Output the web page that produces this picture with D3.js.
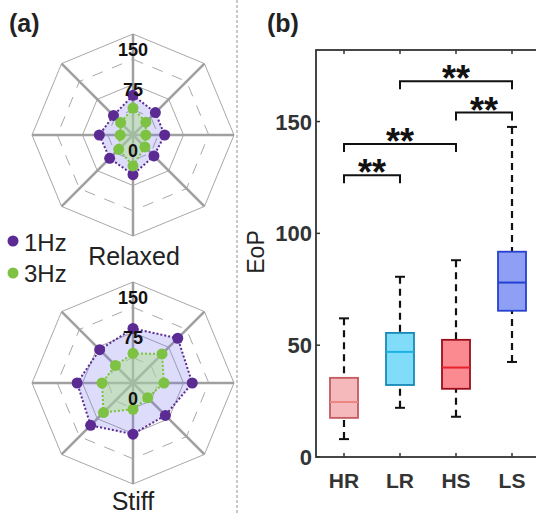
<!DOCTYPE html>
<html>
<head>
<meta charset="utf-8">
<script src="https://cdnjs.cloudflare.com/ajax/libs/d3/7.8.5/d3.min.js"></script>
<style>
  body { margin: 0; background: #fff; }
  svg { display: block; font-family: "Liberation Sans", Arial, sans-serif; }
</style>
</head>
<body>
<div id="chart"></div>
<script>
// radar data, axes in order N, NE, E, SE, S, SW, W, NW
var relaxed1Hz = [59, 47, 47, 44, 59, 49, 50, 41];
var relaxed3Hz = [40, 27, 19, 25, 46, 30, 19, 26];
var stiff1Hz   = [81, 94, 88, 68, 76, 89, 83, 70];
var stiff3Hz   = [44, 61, 46, 31, 39, 62, 46, 37];
var radarTicks = [0, 75, 150];
var radarRings = [37.5, 75, 112.5, 150];

// box plot data
var groups      = ["HR", "LR", "HS", "LS"];
var whiskerLow  = [8, 22, 18, 42.5];
var q1          = [17.5, 32.2, 30.5, 65.4];
var medians     = [24.6, 47, 40, 78];
var q3          = [35.4, 55.5, 52.4, 91.8];
var whiskerHigh = [62, 80.6, 88, 147.6];
var yTicks      = [0, 50, 100, 150];
// significance brackets: [from, to, level]
var brackets    = [[0, 1, 126], [0, 2, 140], [2, 3, 154], [1, 3, 168]];

var width = 536, height = 514;
var purple = "#5b2a93", green = "#7dc242";

var svg = d3.select("#chart").append("svg")
    .attr("width", width)
    .attr("height", height);

// ---------- panel (a) ----------
var rScale = d3.scaleLinear().domain([0, 150]).range([0, 101]);
var angle = function(i) { return i * Math.PI / 4; };

function radar(cx, cy, data1, data3) {
  var g = svg.append("g").attr("transform", "translate(" + cx + "," + cy + ")");
  var pt = function(v, i) {
    return [rScale(v) * Math.sin(angle(i)), -rScale(v) * Math.cos(angle(i))];
  };
  var idx = d3.range(8);

  // rings
  radarRings.forEach(function(v, k) {
    g.append("polygon")
      .attr("points", idx.map(function(i) { return pt(v, i).join(","); }).join(" "))
      .attr("fill", "none")
      .attr("stroke", "#a8a8a8")
      .attr("stroke-width", 1)
      .attr("stroke-dasharray", (k % 2 == 0) ? "11,10" : null);
  });

  // spokes
  g.selectAll(".spoke")
    .data(idx)
    .enter().append("line")
    .attr("x1", 0).attr("y1", 0)
    .attr("x2", function(i) { return pt(150, i)[0]; })
    .attr("y2", function(i) { return pt(150, i)[1]; })
    .attr("stroke", "#a0a0a0")
    .attr("stroke-width", 2.5);

  var line = d3.line().curve(d3.curveLinearClosed);

  g.append("path")
    .attr("d", line(data1.map(pt)))
    .attr("fill", "rgba(120,120,240,0.25)")
    .attr("stroke", purple)
    .attr("stroke-width", 2)
    .attr("stroke-dasharray", "2,2");

  g.append("path")
    .attr("d", line(data3.map(pt)))
    .attr("fill", "rgba(173,223,143,0.5)")
    .attr("stroke", green)
    .attr("stroke-width", 2)
    .attr("stroke-dasharray", "2,2");

  g.selectAll(".d1")
    .data(data1)
    .enter().append("circle")
    .attr("cx", function(d, i) { return pt(d, i)[0]; })
    .attr("cy", function(d, i) { return pt(d, i)[1]; })
    .attr("r", 5.5)
    .attr("fill", purple);

  g.selectAll(".d3")
    .data(data3)
    .enter().append("circle")
    .attr("cx", function(d, i) { return pt(d, i)[0]; })
    .attr("cy", function(d, i) { return pt(d, i)[1]; })
    .attr("r", 5.5)
    .attr("fill", green);

  g.selectAll(".rlab")
    .data(radarTicks)
    .enter().append("text")
    .attr("x", 0)
    .attr("y", function(d) { return -rScale(d) + (d == 75 ? 11 : 22); })
    .attr("text-anchor", "middle")
    .attr("font-size", 18)
    .attr("font-weight", "bold")
    .attr("fill", "#111")
    .text(function(d) { return d; });
}

radar(133, 135, relaxed1Hz, relaxed3Hz);
radar(133, 383, stiff1Hz, stiff3Hz);

svg.append("text").attr("x", 9).attr("y", 32)
  .attr("font-size", 25).attr("font-weight", "bold").attr("fill", "#222").text("(a)");

svg.append("text").attr("x", 134).attr("y", 265).attr("text-anchor", "middle")
  .attr("font-size", 25).attr("fill", "#222").text("Relaxed");
svg.append("text").attr("x", 133).attr("y", 510).attr("text-anchor", "middle")
  .attr("font-size", 25).attr("fill", "#222").text("Stiff");

var legend = [["1Hz", purple], ["3Hz", green]];
legend.forEach(function(d, i) {
  svg.append("circle").attr("cx", 13).attr("cy", 241 + i * 32).attr("r", 5.5).attr("fill", d[1]);
  svg.append("text").attr("x", 24).attr("y", 251 + i * 31)
    .attr("font-size", 24).attr("fill", "#222").text(d[0]);
});

// separator
svg.append("line")
  .attr("x1", 237).attr("x2", 237).attr("y1", 0).attr("y2", height)
  .attr("stroke", "#b8b8b8").attr("stroke-width", 1.5).attr("stroke-dasharray", "3,2");

// ---------- panel (b) ----------
var x = d3.scaleLinear().domain([0.5, 4.5]).range([316, 540]);
var y = d3.scaleLinear().domain([0, 182]).range([457, 50]);

svg.append("text").attr("x", 267).attr("y", 32)
  .attr("font-size", 25).attr("font-weight", "bold").attr("fill", "#222").text("(b)");

var frame = svg.append("g");
frame.append("rect")
  .attr("x", x(0.5)).attr("y", y(182))
  .attr("width", x(4.5) - x(0.5)).attr("height", y(0) - y(182))
  .attr("fill", "none").attr("stroke", "#333").attr("stroke-width", 1.8);

var xi = d3.range(1, 5);
// inward ticks on all sides
frame.selectAll(".tb").data(xi).enter().append("line")
  .attr("x1", function(d) { return x(d); }).attr("x2", function(d) { return x(d); })
  .attr("y1", y(0)).attr("y2", y(0) - 4)
  .attr("stroke", "#333").attr("stroke-width", 1.5);
frame.selectAll(".tt").data(xi).enter().append("line")
  .attr("x1", function(d) { return x(d); }).attr("x2", function(d) { return x(d); })
  .attr("y1", y(182)).attr("y2", y(182) + 4)
  .attr("stroke", "#333").attr("stroke-width", 1.5);
frame.selectAll(".tl").data(yTicks).enter().append("line")
  .attr("x1", x(0.5)).attr("x2", x(0.5) + 4)
  .attr("y1", function(d) { return y(d); }).attr("y2", function(d) { return y(d); })
  .attr("stroke", "#333").attr("stroke-width", 1.5);
frame.selectAll(".tr").data(yTicks).enter().append("line")
  .attr("x1", x(4.5)).attr("x2", x(4.5) - 4)
  .attr("y1", function(d) { return y(d); }).attr("y2", function(d) { return y(d); })
  .attr("stroke", "#333").attr("stroke-width", 1.5);

frame.selectAll(".yl").data(yTicks).enter().append("text")
  .attr("x", x(0.5) - 4).attr("y", function(d) { return y(d) + 8; })
  .attr("text-anchor", "end").attr("font-size", 22).attr("font-weight", "bold").attr("fill", "#333")
  .text(function(d) { return d; });

frame.selectAll(".xl").data(groups).enter().append("text")
  .attr("x", function(d, i) { return x(i + 1); }).attr("y", 488)
  .attr("text-anchor", "middle").attr("font-size", 21).attr("font-weight", "bold").attr("fill", "#333")
  .text(function(d) { return d; });

svg.append("text")
  .attr("transform", "translate(264," + 252 + ") rotate(-90)")
  .attr("text-anchor", "middle").attr("font-size", 23).attr("fill", "#222").text("EoP");

var boxFill   = ["#f5b9bc", "#80ddf9", "#fa8a90", "#8e9ff4"];
var boxStroke = ["#c25a5e", "#1a88b5", "#9a0f1c", "#2641d0"];
var medStroke = ["#ec8680", "#1bb2e3", "#e8202c", "#2641d0"];

var boxes = svg.selectAll(".box").data(groups).enter().append("g");

boxes.append("line")
  .attr("x1", function(d, i) { return x(i + 1); }).attr("x2", function(d, i) { return x(i + 1); })
  .attr("y1", function(d, i) { return y(whiskerHigh[i]); }).attr("y2", function(d, i) { return y(q3[i]); })
  .attr("stroke", "#111").attr("stroke-width", 2.2).attr("stroke-dasharray", "7,5");
boxes.append("line")
  .attr("x1", function(d, i) { return x(i + 1); }).attr("x2", function(d, i) { return x(i + 1); })
  .attr("y1", function(d, i) { return y(whiskerLow[i]); }).attr("y2", function(d, i) { return y(q1[i]); })
  .attr("stroke", "#111").attr("stroke-width", 2.2).attr("stroke-dasharray", "7,5");
[whiskerLow, whiskerHigh].forEach(function(arr) {
  boxes.append("line")
    .attr("x1", function(d, i) { return x(i + 1) - 5; }).attr("x2", function(d, i) { return x(i + 1) + 5; })
    .attr("y1", function(d, i) { return y(arr[i]); }).attr("y2", function(d, i) { return y(arr[i]); })
    .attr("stroke", "#111").attr("stroke-width", 2);
});
boxes.append("rect")
  .attr("x", function(d, i) { return x(i + 0.75); })
  .attr("y", function(d, i) { return y(q3[i]); })
  .attr("width", x(1.25) - x(0.75))
  .attr("height", function(d, i) { return y(q1[i]) - y(q3[i]); })
  .attr("fill", function(d, i) { return boxFill[i]; })
  .attr("stroke", function(d, i) { return boxStroke[i]; })
  .attr("stroke-width", 1.8);
boxes.append("line")
  .attr("x1", function(d, i) { return x(i + 0.75); }).attr("x2", function(d, i) { return x(i + 1.25); })
  .attr("y1", function(d, i) { return y(medians[i]); }).attr("y2", function(d, i) { return y(medians[i]); })
  .attr("stroke", function(d, i) { return medStroke[i]; }).attr("stroke-width", 2);

// significance brackets
var br = svg.selectAll(".br").data(brackets).enter().append("g");
br.append("path")
  .attr("d", function(d) {
    var x1 = x(d[0] + 1), x2 = x(d[1] + 1), yy = y(d[2]);
    return "M" + x1 + "," + (yy + 8) + "V" + yy + "H" + x2 + "V" + (yy + 8);
  })
  .attr("fill", "none").attr("stroke", "#111").attr("stroke-width", 2);
br.append("text")
  .attr("x", function(d) { return (x(d[0] + 1) + x(d[1] + 1)) / 2; })
  .attr("y", function(d) { return y(d[2]) + 10; })
  .attr("text-anchor", "middle").attr("font-size", 36).attr("font-weight", "bold").attr("fill", "#111")
  .text("**");
</script>
</body>
</html>
